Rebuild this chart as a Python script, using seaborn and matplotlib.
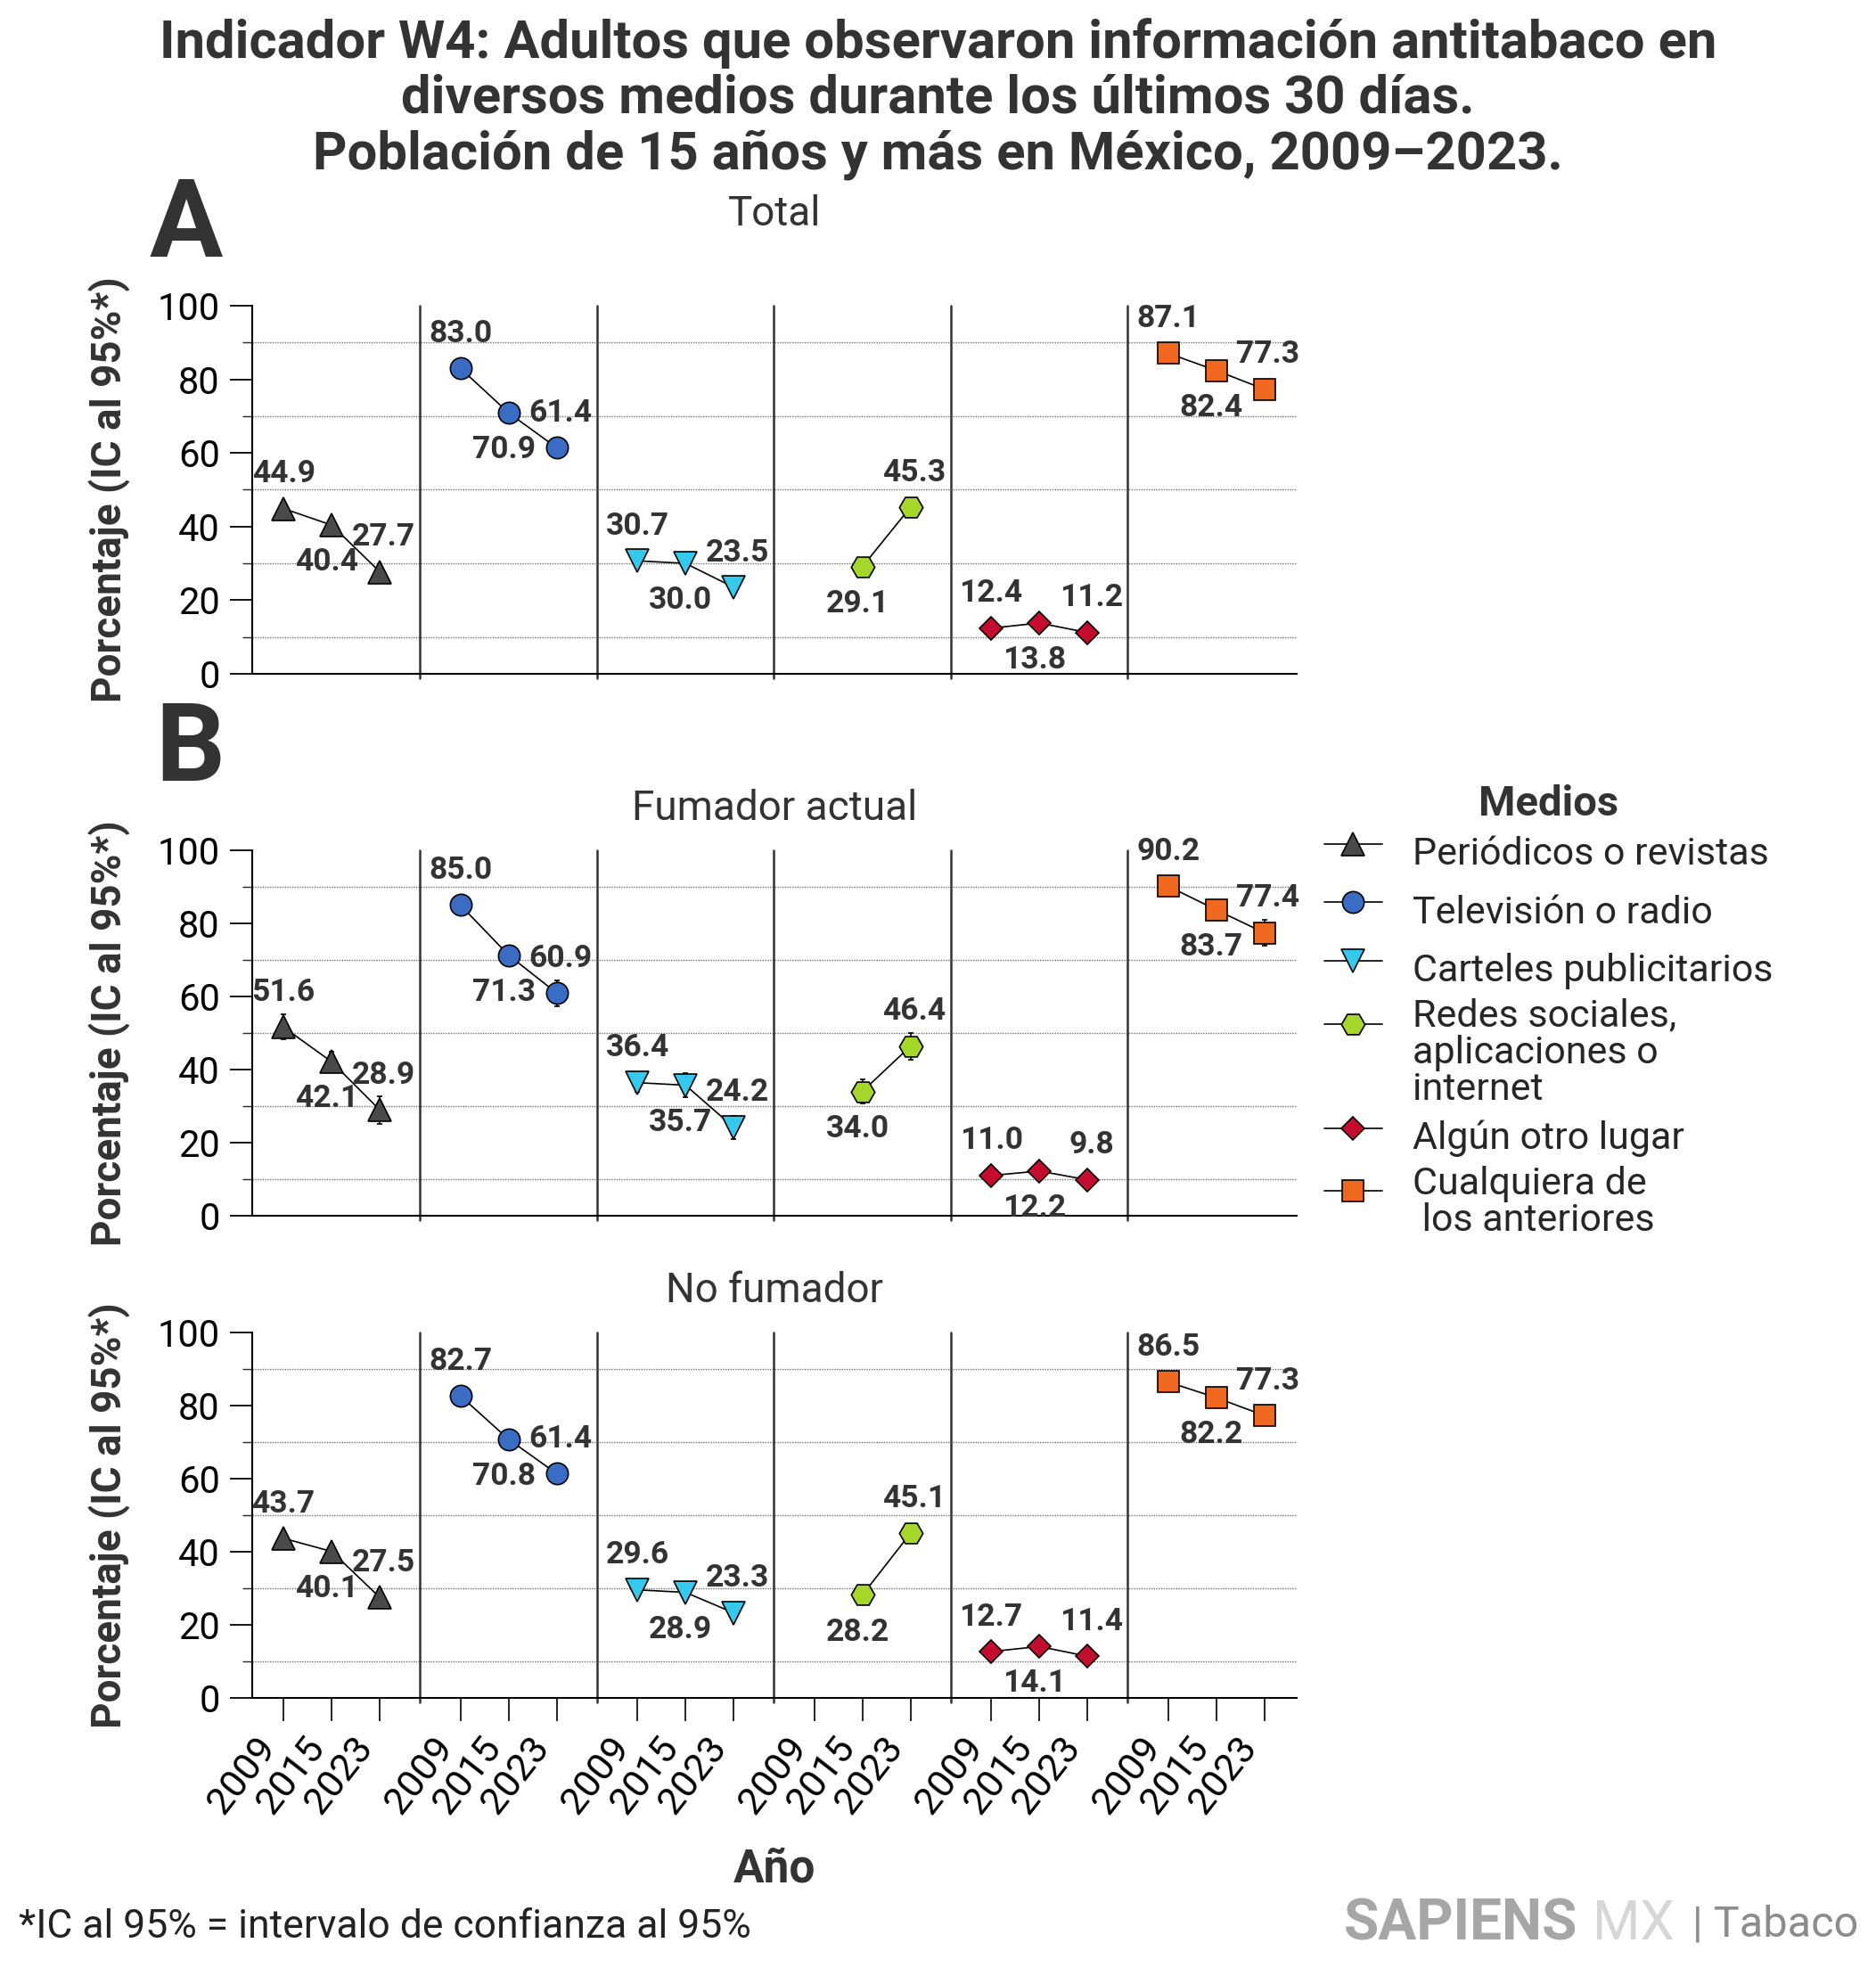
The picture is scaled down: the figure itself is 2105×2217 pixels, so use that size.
import numpy as np
import pandas as pd
import matplotlib
matplotlib.use("Agg")
import matplotlib.pyplot as plt
import seaborn as sns
from matplotlib.lines import Line2D
from matplotlib.ticker import MultipleLocator

# --- data ---
years = ["2009", "2015", "2023"]
medios = ["Periódicos o revistas", "Televisión o radio", "Carteles publicitarios",
          "Redes sociales,\naplicaciones o\ninternet", "Algún otro lugar",
          "Cualquiera de\n los anteriores"]
panels = ["Total", "Fumador actual", "No fumador"]

# values per medio x year (2009, 2015, 2023)
total_vals = [44.9, 40.4, 27.7,  83.0, 70.9, 61.4,  30.7, 30.0, 23.5,
              np.nan, 29.1, 45.3,  12.4, 13.8, 11.2,  87.1, 82.4, 77.3]
actual_vals = [51.6, 42.1, 28.9,  85.0, 71.3, 60.9,  36.4, 35.7, 24.2,
               np.nan, 34.0, 46.4,  11.0, 12.2, 9.8,  90.2, 83.7, 77.4]
no_vals = [43.7, 40.1, 27.5,  82.7, 70.8, 61.4,  29.6, 28.9, 23.3,
           np.nan, 28.2, 45.1,  12.7, 14.1, 11.4,  86.5, 82.2, 77.3]

# half-width of the 95% CI (estimated; mostly hidden behind the markers)
total_ci = [1.5, 1.5, 1.5,  1.2, 1.5, 1.5,  1.5, 1.5, 1.5,
            np.nan, 1.5, 1.6,  1.0, 1.1, 1.0,  1.0, 1.2, 1.3]
actual_ci = [3.4, 2.8, 3.7,  2.0, 2.4, 3.5,  2.4, 3.3, 3.2,
             np.nan, 3.4, 3.7,  2.0, 2.2, 2.0,  1.8, 2.2, 3.5]
no_ci = [1.6, 1.6, 1.6,  1.3, 1.6, 1.6,  1.6, 1.6, 1.6,
         np.nan, 1.6, 1.7,  1.1, 1.2, 1.1,  1.1, 1.3, 1.4]

colors = ["#4a4a4a", "#3a6cc4", "#35c9ee", "#a6d62a", "#c40d2e", "#f06820"]
markers = ["^", "o", "v", "H", "D", "s"]
msizes = [19, 17.5, 19, 19, 13.5, 17]

rows = []
for p, vals, cis in zip(panels, [total_vals, actual_vals, no_vals],
                        [total_ci, actual_ci, no_ci]):
    for i, (v, c) in enumerate(zip(vals, cis)):
        g, k = divmod(i, 3)
        rows.append(dict(panel=p, grupo=g, k=k, year=years[k], value=v, ci=c))
df = pd.DataFrame(rows)

GROUP_STEP = 3.67
df["x"] = df["grupo"] * GROUP_STEP + df["k"]

sns.set_style("white")
plt.rcParams["font.family"] = ["Roboto", "DejaVu Sans"]

fig = plt.figure(figsize=(21.05, 22.17), dpi=100)
rects = [(0.1344, 0.659, 0.5568, 0.1863),
         (0.1344, 0.3848, 0.5568, 0.1849),
         (0.1344, 0.1407, 0.5568, 0.1849)]
axes = [fig.add_axes(r) for r in rects]
label_dy = {"2009": 28, "2015": -30, "2023": 28}
label_dx = {"2009": 0, "2015": -4, "2023": 3}

for ax, p in zip(axes, panels):
    sub = df[df.panel == p]
    for g in range(len(medios)):
        d = sub[sub.grupo == g].dropna(subset=["value"])
        ax.errorbar(d.x, d.value, yerr=d.ci, fmt="none", ecolor="black",
                    elinewidth=1.2, capsize=2.5, capthick=1.2, zorder=2)
        sns.lineplot(data=d, x="x", y="value", ax=ax, color="black", linewidth=1.2,
                     marker=markers[g], markersize=msizes[g],
                     markerfacecolor=colors[g], markeredgecolor="black",
                     markeredgewidth=1.2, estimator=None, sort=False, zorder=3)
        for _, r in d.iterrows():
            ax.annotate(f"{r.value:.1f}", (r.x, r.value),
                        xytext=(label_dx[r.year], label_dy[r.year]),
                        textcoords="offset points", ha="center", va="center",
                        fontsize=25.5, fontweight="bold", color="#333333", zorder=4)

    ax.set_xlim(-0.65, 5 * GROUP_STEP + 2 + 0.67)
    ax.set_ylim(0, 100)
    ax.yaxis.set_major_locator(MultipleLocator(20))
    ax.yaxis.set_minor_locator(MultipleLocator(10))
    ax.tick_params(axis="y", which="major", length=18, width=1.3, labelsize=30,
                   pad=8, colors="black", left=True)
    ax.tick_params(axis="y", which="minor", length=8, width=1.0, left=True)
    ax.grid(False)
    ax.grid(which="minor", axis="y", linestyle=(0, (1, 1)), color="#6f6f6f",
            linewidth=1.0)
    for side in ["top", "right"]:
        ax.spines[side].set_visible(False)
    for side in ["left", "bottom"]:
        ax.spines[side].set_color("black")
        ax.spines[side].set_linewidth(1.5)
    for g in range(1, len(medios)):
        ax.axvline(g * GROUP_STEP - (GROUP_STEP - 2) / 2, ymin=-0.012, ymax=1,
                   color="#333333", lw=1.8, clip_on=False, zorder=1)
    ax.set_xlabel("")
    ax.set_ylabel("Porcentaje (IC al 95%*)", fontsize=33, fontweight="bold",
                  color="#333333")
    ax.yaxis.set_label_coords(-0.116, 0.5)

axes[0].text(0.5, 1.249, "Total", transform=axes[0].transAxes, ha="center",
             va="center", fontsize=33, color="#333333")
axes[1].text(0.5, 1.115, "Fumador actual", transform=axes[1].transAxes,
             ha="center", va="center", fontsize=33, color="#333333")
axes[2].text(0.5, 1.115, "No fumador", transform=axes[2].transAxes,
             ha="center", va="center", fontsize=33, color="#333333")

xt = sorted(df.x.unique())
for ax in axes[:2]:
    ax.set_xticks([])
axes[2].set_xticks(xt)
axes[2].set_xticklabels(years * len(medios), rotation=52, ha="right")
axes[2].tick_params(axis="x", length=19, width=1.2, labelsize=31, pad=7,
                    bottom=True, colors="black")

# --- titles and annotations ---
fig.text(0.5, 0.950,
         "Indicador W4: Adultos que observaron información antitabaco en\n"
         "diversos medios durante los últimos 30 días.\n"
         "Población de 15 años y más en México, 2009–2023.",
         ha="center", va="center", fontsize=43, fontweight="bold",
         color="#333333", linespacing=1.14)
fig.text(0.0993, 0.8854, "A", ha="center", va="center", fontsize=88,
         fontweight="bold", color="#333333")
fig.text(0.1012, 0.6198, "B", ha="center", va="center", fontsize=88,
         fontweight="bold", color="#333333")
fig.text(0.413, 0.0537, "Año", ha="center", va="center", fontsize=37,
         fontweight="bold", color="#333333")
fig.text(0.01, 0.0248, "*IC al 95% = intervalo de confianza al 95%",
         ha="left", va="center", fontsize=32, color="#222222")
fig.text(0.7164, 0.026, "SAPIENS", ha="left", va="center", fontsize=46,
         fontweight="bold", color="#a6a6a6")
fig.text(0.849, 0.026, "MX", ha="left", va="center", fontsize=44,
         color="#d6d6d6")
fig.text(0.902, 0.026, "| Tabaco", ha="left", va="center", fontsize=35,
         color="#8c8c8c")

# --- legend ---
handles = [Line2D([0], [0], color="black", lw=1.2, marker=markers[i],
                  markersize=msizes[i], markerfacecolor=colors[i],
                  markeredgecolor="black", markeredgewidth=1.2)
           for i in range(len(medios))]
leg = fig.legend(handles, medios, loc="upper left", bbox_to_anchor=(0.706, 0.603),
                 frameon=False, title="Medios",
                 title_fontproperties={"weight": "bold", "size": 34},
                 fontsize=31, handlelength=1.5, handletextpad=0.8,
                 handleheight=1.95, labelspacing=0.0, borderpad=0,
                 borderaxespad=0)
leg.get_title().set_color("#333333")
for t in leg.get_texts():
    t.set_linespacing(1.0)
# keys of the multi-line entries sit next to their first line
for h, shift in zip(leg.legend_handles, [0, 0, 0, 18, 0, 4]):
    h.set_ydata(np.asarray(h.get_ydata(), dtype=float) + shift)

fig.savefig("out.png", dpi=100, facecolor="white")
